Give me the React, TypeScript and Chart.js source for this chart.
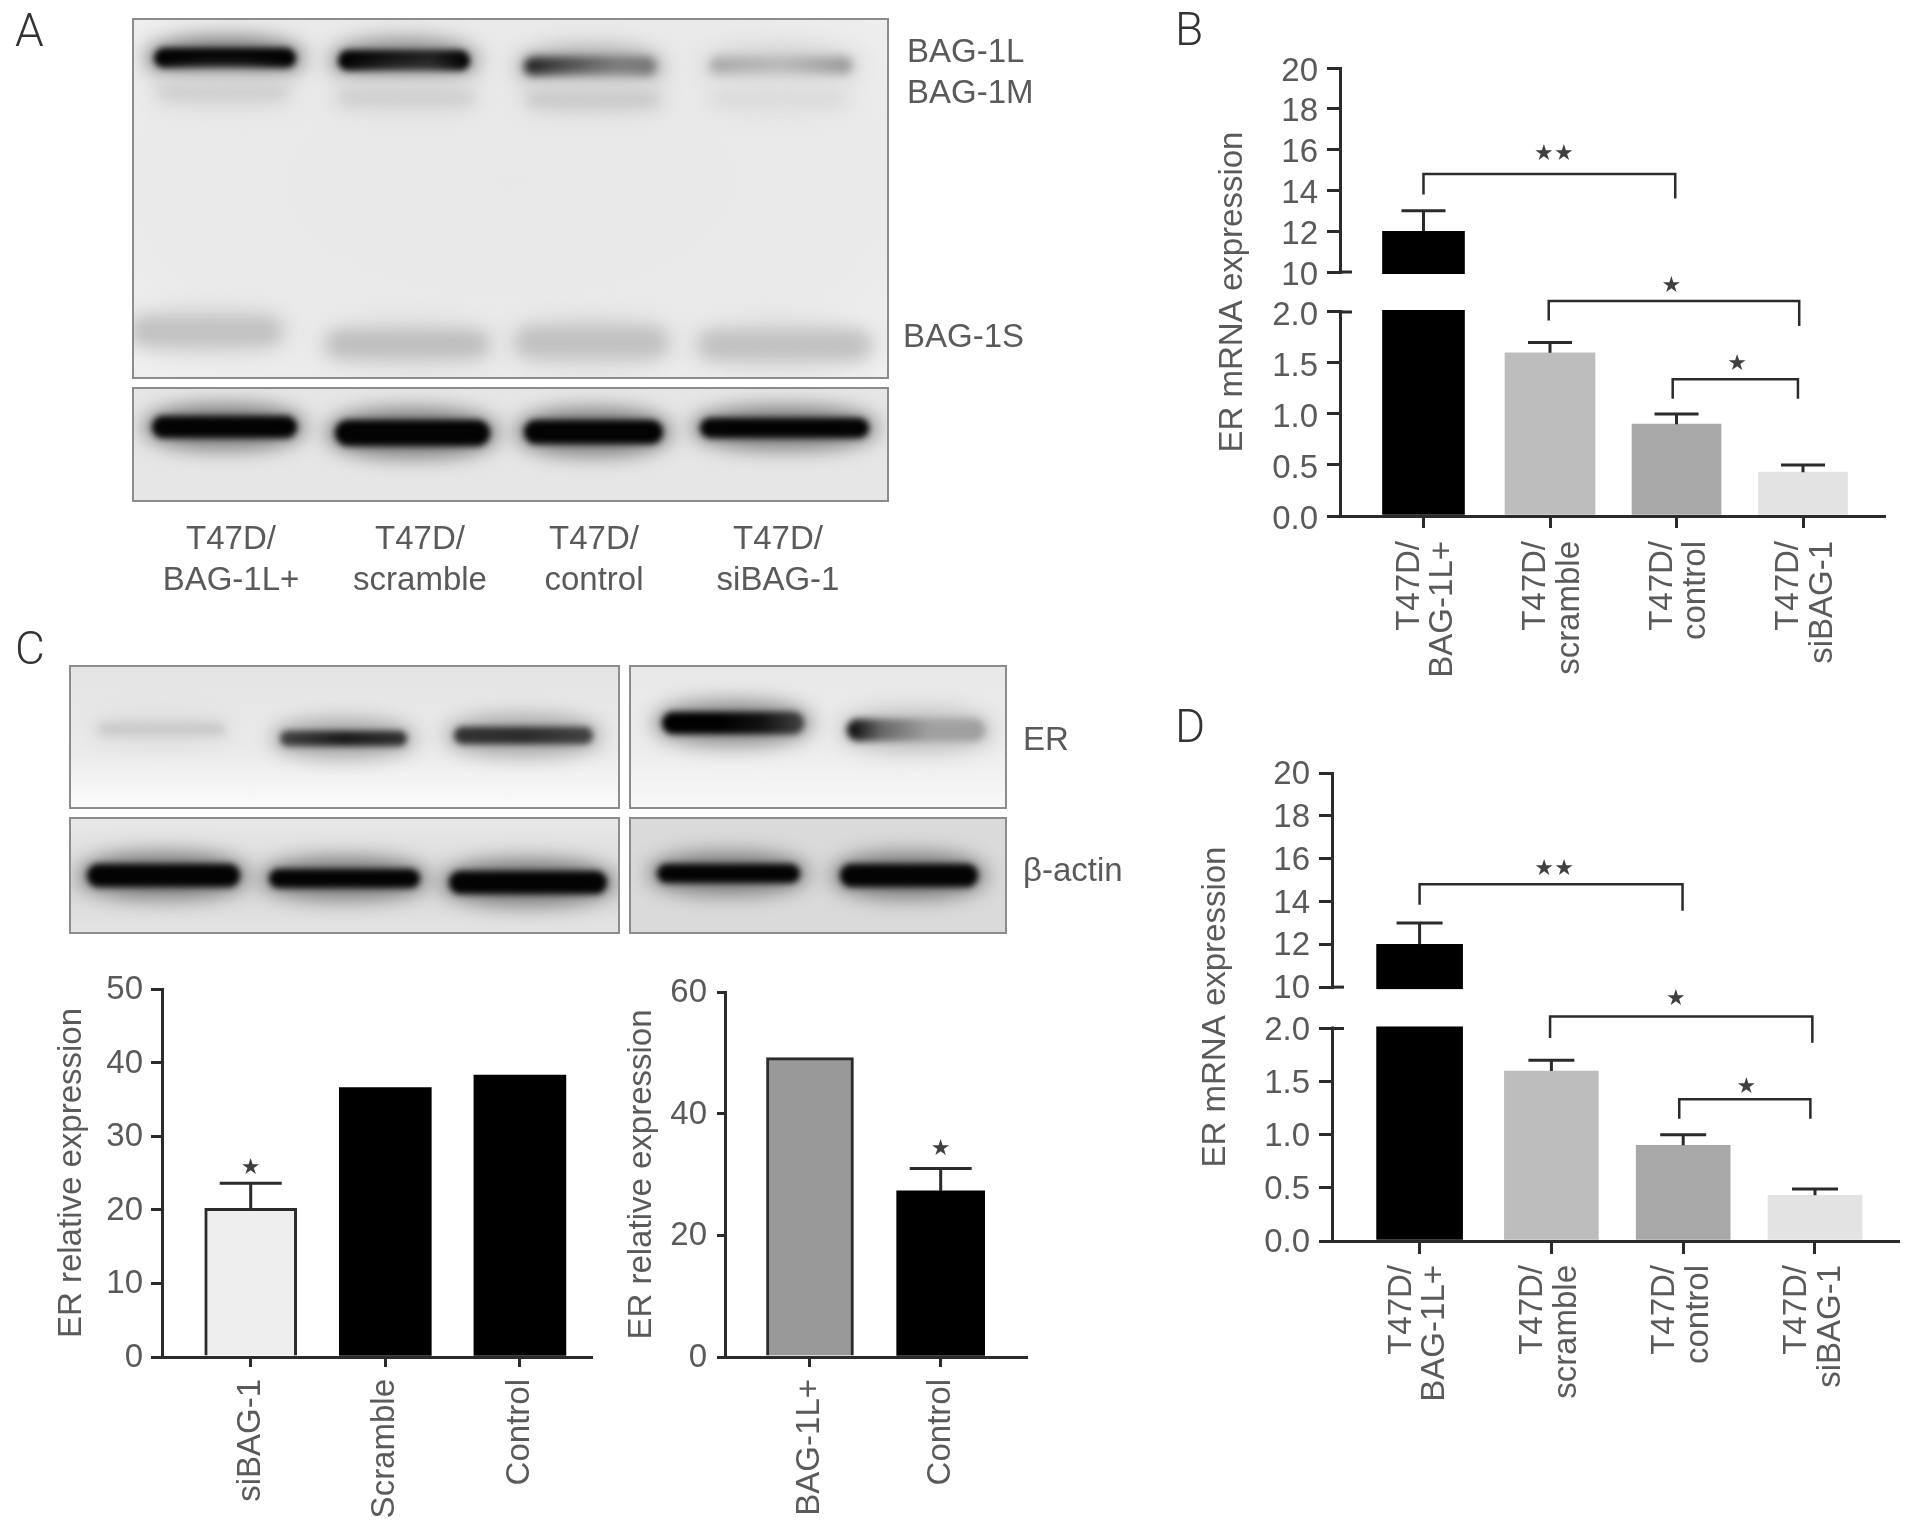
import React, { useEffect, useRef } from "react";
import { Chart, registerables, LinearScale } from "chart.js";

Chart.register(...registerables);

const FONT = '"Liberation Sans", Arial, sans-serif';
const INK = "#2b2b2b";
const TEXT = "#5a5a5a";

// Axis with a gap between two linear ranges
class BrokenLinearScale extends LinearScale {
  static id = "brokenLinear";
  getPixelForValue(value: any) {
    const o: any = this.options;
    const [low, high] = o.breakFrac;
    const a = o.breakLow, b = o.breakHigh, m = this.max;
    let d;
    if (value <= a) d = (value / a) * low;
    else if (value >= b) d = high + ((value - b) / (m - b)) * (1 - high);
    else d = low + ((value - a) / (b - a)) * (high - low);
    return this.getPixelForDecimal(d);
  }
}
Chart.register(BrokenLinearScale as any);

// ---- Panel B data ----
const bCategories = [["T47D/", "BAG-1L+"], ["T47D/", "scramble"], ["T47D/", "control"], ["T47D/", "siBAG-1"]];
const bValues = [12, 1.6, 0.9, 0.43];
const bErrorTops = [13, 1.7, 1.0, 0.5];
const bTicks = [0, 0.5, 1, 1.5, 2, 10, 12, 14, 16, 18, 20];
const bColors = ["#000000", "#bdbdbd", "#a8a8a8", "#e3e3e3"];
const bBrackets = [
  [0, 1.99, 14.8, 13.8, 13.6],
  [0.99, 2.97, 4.2, 1.917, 1.863],
  [1.97, 2.96, 1.34, 1.15, 1.15],
];
const bStars = [
  [1.03, 15.9, 2],
  [1.96, 7.6, 1],
  [2.48, 1.505, 1],
];

// ---- Panel D data ----
const dCategories = [["T47D/", "BAG-1L+"], ["T47D/", "scramble"], ["T47D/", "control"], ["T47D/", "siBAG-1"]];
const dValues = [12, 1.6, 0.9, 0.43];
const dErrorTops = [13, 1.7, 1.0, 0.49];
const dTicks = [0, 0.5, 1, 1.5, 2, 10, 12, 14, 16, 18, 20];
const dColors = ["#000000", "#bdbdbd", "#a8a8a8", "#e3e3e3"];
const dBrackets = [
  [0, 1.995, 14.8, 13.85, 13.57],
  [0.99, 2.98, 4.3, 1.91, 1.865],
  [1.97, 2.965, 1.335, 1.15, 1.15],
];
const dStars = [
  [1.02, 15.6, 2],
  [1.945, 8.04, 1],
  [2.48, 1.47, 1],
];

// ---- Panel C data ----
const c1Categories = ["siBAG-1", "Scramble", "Control"];
const c1Values = [20.2, 36.6, 38.3];
const c1ErrorTops = [23.6, null, null];
const c1Ticks = [0, 10, 20, 30, 40, 50];
const c1Colors = ["#eeeeee", "#000000", "#000000"];
const c1Stars = [[0, 25.9, 1]];

const c2Categories = ["BAG-1L+", "Control"];
const c2Values = [49.2, 27.3];
const c2ErrorTops = [null, 31];
const c2Ticks = [0, 20, 40, 60];
const c2Colors = ["#999999", "#000000"];
const c2Stars = [[1, 34.5, 1]];

function makeChart(canvas: HTMLCanvasElement, s: any) {
  const annotate = {
    id: "annotate",
    afterDatasetsDraw(chart: any) {
      const ctx = chart.ctx;
      const sx = chart.scales.x;
      const sy = chart.scales.y;
      ctx.save();
      if (s.broken) {
        const yHigh = sy.getPixelForValue(10);
        const yLow = sy.getPixelForValue(2);
        ctx.fillStyle = "#ffffff";
        ctx.fillRect(sx.left - 4, yHigh + 2, sx.right - sx.left + 4, yLow - yHigh - 4);
        ctx.strokeStyle = INK;
        ctx.lineWidth = 3;
        [yHigh, yLow].forEach((y: number) => {
          ctx.beginPath();
          ctx.moveTo(sx.left, y);
          ctx.lineTo(sx.left + 12, y);
          ctx.stroke();
        });
      }
      ctx.strokeStyle = INK;
      ctx.lineWidth = 3;
      s.errorTops.forEach((t: number | null, i: number) => {
        if (t == null) return;
        const x = sx.getPixelForValue(i);
        const y0 = sy.getPixelForValue(s.values[i]);
        const y1 = sy.getPixelForValue(t);
        ctx.beginPath();
        ctx.moveTo(x, y0);
        ctx.lineTo(x, y1);
        ctx.moveTo(x - s.cap / 2, y1);
        ctx.lineTo(x + s.cap / 2, y1);
        ctx.stroke();
      });
      ctx.lineWidth = 2.5;
      (s.brackets || []).forEach(([a, b, top, l, r]: number[]) => {
        const xa = sx.getPixelForValue(a);
        const xb = sx.getPixelForValue(b);
        ctx.beginPath();
        ctx.moveTo(xa, sy.getPixelForValue(l));
        ctx.lineTo(xa, sy.getPixelForValue(top));
        ctx.lineTo(xb, sy.getPixelForValue(top));
        ctx.lineTo(xb, sy.getPixelForValue(r));
        ctx.stroke();
      });
      ctx.fillStyle = "#404040";
      ctx.font = `22px "DejaVu Sans"`;
      ctx.textAlign = "center";
      ctx.textBaseline = "alphabetic";
      (s.stars || []).forEach(([a, v, n]: number[]) => {
        const x = sx.getPixelForValue(a);
        const y = sy.getPixelForValue(v);
        for (let k = 0; k < n; k++) {
          const dx = n === 2 ? (k === 0 ? -10 : 10) : 0;
          ctx.fillText("★", x + dx, y + 8);
        }
      });
      ctx.restore();
    },
  };

  return new Chart(canvas, {
    type: "bar",
    data: {
      datasets: s.values.map((v: number, i: number) => ({
        data: [{ x: i, y: v }],
        backgroundColor: s.colors[i],
        borderColor: s.borderColors ? s.borderColors[i] : s.colors[i],
        borderWidth: s.borderWidths ? s.borderWidths[i] : 0,
        barThickness: s.thickness[i],
      })),
    },
    options: {
      responsive: false,
      animation: false,
      layout: { padding: { top: 30, left: 0, right: 0, bottom: 0 } },
      plugins: { legend: { display: false }, tooltip: { enabled: false }, title: { display: false } },
      scales: {
        x: {
          type: "linear",
          stacked: true,
          offset: false,
          min: s.xMin,
          max: s.xMax,
          afterBuildTicks: (scale: any) => {
            scale.ticks = s.categories.map((_: any, i: number) => ({ value: i }));
          },
          afterFit: (scale: any) => {
            scale.height = s.axisH;
          },
          grid: { offset: false, drawOnChartArea: false, drawTicks: true, tickLength: s.xTickLen, tickColor: INK, tickWidth: 3, color: INK, lineWidth: 3 },
          border: { display: true, color: INK, width: 3, z: 1 },
          ticks: {
            autoSkip: false,
            minRotation: 90,
            maxRotation: 90,
            padding: s.xPad,
            labelOffset: s.xLabelOffset,
            color: TEXT,
            font: { family: FONT, size: 33, lineHeight: 1.02 },
            callback: (v: any) => s.categories[v],
          },
        },
        y: {
          type: s.broken ? "brokenLinear" : "linear",
          min: 0,
          max: s.yMax,
          breakFrac: s.breakFrac,
          breakLow: 2,
          breakHigh: 10,
          afterBuildTicks: (scale: any) => {
            scale.ticks = s.yTicks.map((value: number) => ({ value }));
          },
          afterFit: (scale: any) => {
            scale.width = s.axisW;
          },
          grid: { drawOnChartArea: false, drawTicks: true, tickLength: s.yTickLen, tickColor: INK, tickWidth: 3, color: INK, lineWidth: 3 },
          border: { display: true, color: INK, width: 3 },
          title: { display: true, text: s.title, color: TEXT, padding: 0, font: { family: FONT, size: 33, lineHeight: 1.2 } },
          ticks: {
            autoSkip: false,
            padding: s.yPad,
            labelOffset: s.yLabelOffset,
            color: TEXT,
            font: { family: FONT, size: 33 },
            callback: (v: any) => (s.broken && v <= 2 ? Number(v).toFixed(1) : String(v)),
          },
        },
      },
    } as any,
    plugins: [annotate],
  } as any);
}

function ChartBox({ left, top, width, height, spec }: any) {
  const ref = useRef<HTMLCanvasElement>(null);
  useEffect(() => {
    const c = makeChart(ref.current as HTMLCanvasElement, spec);
    return () => c.destroy();
  }, []);
  return <canvas ref={ref} width={width} height={height} style={{ position: "absolute", left, top, width, height, filter: "blur(0.5px)" }} />;
}

const specB = {
  categories: bCategories, values: bValues, errorTops: bErrorTops, colors: bColors, thickness: [82, 90, 89, 89],
  cap: 44, broken: true, breakFrac: [0.4554, 0.5446], yMax: 20, yTicks: bTicks, title: "ER mRNA expression",
  xMin: -0.66, xMax: 3.656, axisW: 127, axisH: 190, yTickLen: 13, xTickLen: 12, xPad: 13, yPad: 9, xLabelOffset: -14, yLabelOffset: 3.5, brackets: bBrackets, stars: bStars,
};
const specD = {
  categories: dCategories, values: dValues, errorTops: dErrorTops, colors: dColors, thickness: [86, 94, 94, 94],
  cap: 46, broken: true, breakFrac: [0.4541, 0.5425], yMax: 20, yTicks: dTicks, title: "ER mRNA expression",
  xMin: -0.6646, xMax: 3.645, axisW: 136, axisH: 180, yTickLen: 13, xTickLen: 13, xPad: 11, yPad: 9, xLabelOffset: -18, yLabelOffset: 2, brackets: dBrackets, stars: dStars,
};
const specC1 = {
  categories: c1Categories, values: c1Values, errorTops: c1ErrorTops, colors: c1Colors,
  borderColors: [INK, "#000000", "#000000"], borderWidths: [3, 0, 0], thickness: [92, 92, 92],
  cap: 62, broken: false, yMax: 50, yTicks: c1Ticks, title: "ER relative expression",
  xMin: -0.659, xMax: 2.543, axisW: 110, axisH: 174, yTickLen: 11, xTickLen: 10, xPad: 12, yPad: 8, xLabelOffset: 0, yLabelOffset: 1, stars: c1Stars,
};
const specC2 = {
  categories: c2Categories, values: c2Values, errorTops: c2ErrorTops, colors: c2Colors,
  borderColors: [INK, "#000000"], borderWidths: [3, 0], thickness: [87, 88],
  cap: 62, broken: false, yMax: 60, yTicks: c2Ticks, title: "ER relative expression",
  xMin: -0.65, xMax: 1.668, axisW: 103, axisH: 174, yTickLen: 8, xTickLen: 10, xPad: 12, yPad: 10, xLabelOffset: 0, yLabelOffset: 1, stars: c2Stars,
};

// ---- Blot bands: x, y, w, h, fill, halo colour, blur ----
const K = "#030303";
const blots = [
  {
    x: 132, y: 18, w: 757, h: 361, bg: "radial-gradient(ellipse at 50% 45%,#e8e8e8,#eaeaea 70%,#f0f0f0)",
    bands: [
      [154, 48, 142, 20, K, "#777", 3],
      [338, 50, 132, 21, "linear-gradient(90deg,#000,#151515 40%,#222 70%,#000)", "#888", 3],
      [524, 57, 132, 19, "linear-gradient(90deg,#222,#444 30%,#777 70%,#777)", "#aaa", 4],
      [710, 57, 142, 17, "linear-gradient(90deg,#aaa,#b8b8b8 50%,#999)", "#d0d0d0", 5],
      [159, 85, 128, 14, "#cdcdcd", "#dcdcdc", 7],
      [338, 89, 135, 16, "#cecece", "#dedede", 7],
      [527, 91, 132, 16, "#c8c8c8", "#dcdcdc", 7],
      [713, 91, 132, 14, "#dadada", "#e2e2e2", 7],
      [132, 318, 148, 26, "#c0c0c0", "#d8d8d8", 8],
      [328, 332, 159, 24, "#bcbcbc", "#d8d8d8", 8],
      [517, 328, 149, 28, "#c0c0c0", "#d8d8d8", 8],
      [700, 332, 169, 26, "#c0c0c0", "#d8d8d8", 8],
    ],
  },
  {
    x: 132, y: 387, w: 757, h: 115, bg: "#e6e6e6",
    bands: [
      [152, 416, 145, 22, K, "#777", 3],
      [335, 420, 155, 26, K, "#777", 3],
      [524, 420, 139, 24, K, "#777", 3],
      [700, 418, 169, 20, K, "#777", 3],
    ],
  },
  {
    x: 69, y: 665, w: 551, h: 144, bg: "linear-gradient(180deg,#e4e4e4,#ebebeb 60%,#fbfbfb)",
    bands: [
      [98, 723, 127, 12, "#c9c9c9", "#dcdcdc", 5],
      [280, 731, 127, 15, "linear-gradient(90deg,#444,#1a1a1a 50%,#333)", "#a0a0a0", 3],
      [454, 727, 139, 17, "linear-gradient(90deg,#333,#2a2a2a 50%,#444)", "#a0a0a0", 3],
    ],
  },
  {
    x: 629, y: 665, w: 378, h: 144, bg: "linear-gradient(180deg,#e8e8e8,#ededed 60%,#f8f8f8)",
    bands: [
      [662, 712, 142, 22, "linear-gradient(90deg,#000,#000 40%,#111 70%,#444)", "#888", 3],
      [847, 719, 138, 22, "linear-gradient(90deg,#000,#666 25%,#a0a0a0 60%,#a0a0a0)", "#c0c0c0", 3.5],
    ],
  },
  {
    x: 69, y: 817, w: 551, h: 117, bg: "linear-gradient(180deg,#e8e8e8,#d8d8d8 60%,#e4e4e4)",
    bands: [
      [87, 864, 153, 23, K, "#777", 3],
      [269, 869, 151, 19, K, "#777", 3],
      [449, 871, 158, 23, K, "#777", 3],
    ],
  },
  {
    x: 629, y: 817, w: 378, h: 117, bg: "#dadada",
    bands: [
      [657, 864, 143, 19, K, "#777", 3],
      [840, 864, 138, 23, K, "#777", 3],
    ],
  },
];

// ---- Text labels: text, x, y ----
const panelLetters = [
  ["A", 15, 30],
  ["B", 1175, 29],
  ["C", 15, 648],
  ["D", 1175, 726],
];
const sideLabels = [
  ["BAG-1L", 907, 51],
  ["BAG-1M", 907, 92],
  ["BAG-1S", 903, 336],
  ["ER", 1023, 739],
  ["β-actin", 1023, 870],
];
const laneLabels = [
  ["T47D/", 231, 538], ["BAG-1L+", 231, 579],
  ["T47D/", 420, 538], ["scramble", 420, 579],
  ["T47D/", 594, 538], ["control", 594, 579],
  ["T47D/", 778, 538], ["siBAG-1", 778, 579],
];

function Blot({ b }: any) {
  return (
    <div style={{ position: "absolute", left: b.x, top: b.y, width: b.w, height: b.h, boxSizing: "border-box", border: "2px solid #8c8c8c", background: b.bg, overflow: "hidden" }}>
      {b.bands.map((g: any, i: number) => {
        const [x, y, w, h, fill, halo, blur] = g;
        const X = x - b.x - 2, Y = y - b.y - 2;
        return (
          <React.Fragment key={i}>
            <div style={{ position: "absolute", left: X - 8, top: Y - 11, width: w + 16, height: h + 22, borderRadius: "45%", background: halo, filter: "blur(10px)" }} />
            <div style={{ position: "absolute", left: X, top: Y, width: w, height: h, borderRadius: h / 2, background: fill, filter: `blur(${blur}px)` }} />
          </React.Fragment>
        );
      })}
    </div>
  );
}

function Label({ t, x, y, size, center, color, family, weight }: any) {
  return (
    <div style={{ position: "absolute", left: x, top: y, transform: center ? "translate(-50%,-50%)" : "translateY(-50%)", fontFamily: family || FONT, fontWeight: weight || 400, fontSize: size, color, whiteSpace: "nowrap", filter: "blur(0.5px)" }}>
      {t}
    </div>
  );
}

export default function App() {
  return (
    <div style={{ position: "absolute", left: 0, top: 0, width: 1913, height: 1531, background: "#fff", overflow: "hidden" }}>
      {blots.map((b, i) => <Blot key={i} b={b} />)}
      {panelLetters.map(([t, x, y]: any) => <Label key={t} t={t} x={x} y={y} size={46} color="#333" family="Roboto, Lato" weight={300} />)}
      {sideLabels.map(([t, x, y]: any) => <Label key={t} t={t} x={x} y={y} size={33} color={TEXT} />)}
      {laneLabels.map(([t, x, y]: any, i) => <Label key={i} t={t} x={x} y={y} size={33} center color={TEXT} />)}
      <ChartBox left={1213} top={38} width={673} height={668} spec={specB} />
      <ChartBox left={1196} top={743} width={704} height={678} spec={specD} />
      <ChartBox left={52} top={959} width={541} height={572} spec={specC1} />
      <ChartBox left={622} top={962} width={406} height={569} spec={specC2} />
    </div>
  );
}
